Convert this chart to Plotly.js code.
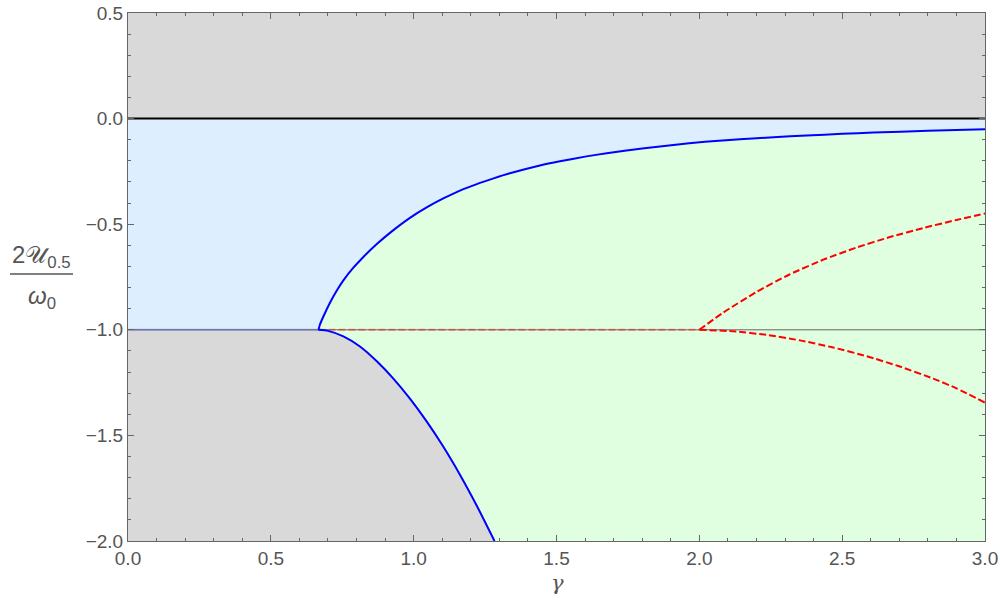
<!DOCTYPE html>
<html>
<head>
<meta charset="utf-8">
<script src="https://cdn.plot.ly/plotly-3.0.1.min.js"></script>
<style>html,body{margin:0;padding:0;background:#fff;}#chart{width:1000px;height:603px;}</style>
</head>
<body>
<div id="chart"></div>
<script>
// Upper blue branch (gamma, 2U/omega0)
const gammaUpper = [0.6667, 0.672, 0.684, 0.707, 0.731, 0.754, 0.789, 0.824, 0.871, 0.917, 0.987, 1.05, 1.104, 1.16, 1.221, 1.28, 1.337, 1.442, 1.512, 1.6, 1.676, 1.8, 1.909, 2.02, 2.142, 2.26, 2.376, 2.5, 2.609, 2.8, 3.0];
const valueUpper = [-1.0, -0.975, -0.937, -0.872, -0.814, -0.766, -0.706, -0.655, -0.594, -0.541, -0.470, -0.417, -0.378, -0.342, -0.310, -0.283, -0.259, -0.222, -0.202, -0.180, -0.164, -0.142, -0.125, -0.110, -0.098, -0.088, -0.080, -0.072, -0.066, -0.058, -0.051];
// Lower blue branch
const gammaLower = [0.6667, 0.70, 0.754, 0.812, 0.871, 0.929, 0.987, 1.046, 1.104, 1.162, 1.221, 1.283];
const valueLower = [-1.0, -1.005, -1.031, -1.079, -1.149, -1.231, -1.326, -1.435, -1.554, -1.686, -1.833, -2.0];
// Red dashed branches
const gammaRedUp = [2.0, 2.084, 2.201, 2.317, 2.434, 2.551, 2.667, 2.784, 2.9, 3.0];
const valueRedUp = [-1.0, -0.918, -0.820, -0.737, -0.668, -0.610, -0.561, -0.518, -0.480, -0.449];
const gammaRedDown = [2.0, 2.119, 2.236, 2.352, 2.469, 2.586, 2.702, 2.819, 2.9, 3.0];
const valueRedDown = [-1.0, -1.007, -1.024, -1.050, -1.084, -1.125, -1.174, -1.231, -1.277, -1.345];
// Reference levels and branch points
const gammaRange = [0, 3];
const yRange = [-2, 0.5];
const levelZero = 0;
const levelMinusOne = -1;
const gammaBranch1 = 0.6667;
const gammaBranch2 = 2.0;
const xTickVals = [0, 0.5, 1, 1.5, 2, 2.5, 3];
const yTickVals = [-2, -1.5, -1, -0.5, 0, 0.5];

const rev = a => a.slice().reverse();

// Blue region: between 0 and upper branch (and -1 before branch point)
const blueX = [gammaRange[0], gammaRange[1]].concat(rev(gammaUpper), [gammaRange[0]]);
const blueY = [levelZero, levelZero].concat(rev(valueUpper), [levelMinusOne]);
// Green region: between upper and lower branches
const greenX = gammaUpper.concat([gammaRange[1]], rev(gammaLower));
const greenY = valueUpper.concat([yRange[0]], rev(valueLower));

const sp = {shape: 'spline', smoothing: 0.5};
const traces = [
  {x: blueX, y: blueY, mode: 'lines', fill: 'toself', fillcolor: '#ddeeff', line: {width: 0}, hoverinfo: 'skip'},
  {x: greenX, y: greenY, mode: 'lines', fill: 'toself', fillcolor: '#e0ffe0', line: {width: 0}, hoverinfo: 'skip'},
  {x: gammaRange, y: [levelMinusOne, levelMinusOne], mode: 'lines', line: {color: '#666666', width: 1}},
  {x: [gammaRange[0], gammaBranch1], y: [levelMinusOne, levelMinusOne], mode: 'lines', line: {color: 'rgba(60,80,200,0.35)', width: 2}},
  {x: [gammaBranch1, gammaBranch2], y: [levelMinusOne, levelMinusOne], mode: 'lines', line: {color: 'rgba(255,0,0,0.4)', width: 2, dash: '7px,3px'}},
  {x: gammaRange, y: [levelZero, levelZero], mode: 'lines', line: {color: '#000000', width: 2}},
  {x: gammaUpper, y: valueUpper, mode: 'lines', line: Object.assign({color: '#0000ff', width: 2}, sp)},
  {x: gammaLower, y: valueLower, mode: 'lines', line: Object.assign({color: '#0000ff', width: 2}, sp)},
  {x: gammaRedUp, y: valueRedUp, mode: 'lines', line: Object.assign({color: '#ff0000', width: 2, dash: '7px,3px'}, sp)},
  {x: gammaRedDown, y: valueRedDown, mode: 'lines', line: Object.assign({color: '#ff0000', width: 2, dash: '7px,3px'}, sp)}
];

const L = 128, R = 985, T = 13, B = 541;
const px = v => (v - L) / (R - L);
const py = v => (B - v) / (B - T);

const axisCommon = {
  showline: true, mirror: 'ticks', linecolor: '#666666', linewidth: 1,
  ticks: 'inside', ticklen: 6, tickcolor: '#666666', tickwidth: 1,
  showgrid: false, zeroline: false, tickformat: '.1f',
  tickfont: {family: 'Liberation Sans, Arial, sans-serif', size: 19, color: '#555555'},
  minor: {ticks: 'inside', ticklen: 3, tickcolor: '#666666', dtick: 0.1, showgrid: false}
};

const layout = {
  width: 1000, height: 603,
  margin: {l: L, r: 1000 - R, t: T, b: 603 - B},
  paper_bgcolor: '#ffffff',
  plot_bgcolor: '#d9d9d9',
  showlegend: false,
  xaxis: Object.assign({}, axisCommon, {range: gammaRange, tickvals: xTickVals}),
  yaxis: Object.assign({}, axisCommon, {range: yRange, tickvals: yTickVals}),
  annotations: [
    {xref: 'paper', yref: 'paper', x: px(557), y: py(583), text: '<i>γ</i>', showarrow: false,
     font: {family: 'DejaVu Serif, serif', size: 21, color: '#555555'}, xanchor: 'center', yanchor: 'middle'},
    {xref: 'paper', yref: 'paper', x: px(41), y: py(256), text: '2𝒰<sub>0.5</sub>', showarrow: false,
     font: {family: 'Liberation Sans, DejaVu Sans, sans-serif', size: 24, color: '#555555'}, xanchor: 'center', yanchor: 'middle'},
    {xref: 'paper', yref: 'paper', x: px(41.5), y: py(297), text: '<i>ω</i><sub>0</sub>', showarrow: false,
     font: {family: 'Liberation Sans, DejaVu Sans, sans-serif', size: 24, color: '#555555'}, xanchor: 'center', yanchor: 'middle'}
  ],
  shapes: [
    {type: 'line', xref: 'paper', yref: 'paper', x0: px(10), x1: px(73), y0: py(274), y1: py(274),
     line: {color: '#555555', width: 1.5}}
  ]
};

Plotly.newPlot('chart', traces, layout, {displayModeBar: false, staticPlot: true});
</script>
</body>
</html>
